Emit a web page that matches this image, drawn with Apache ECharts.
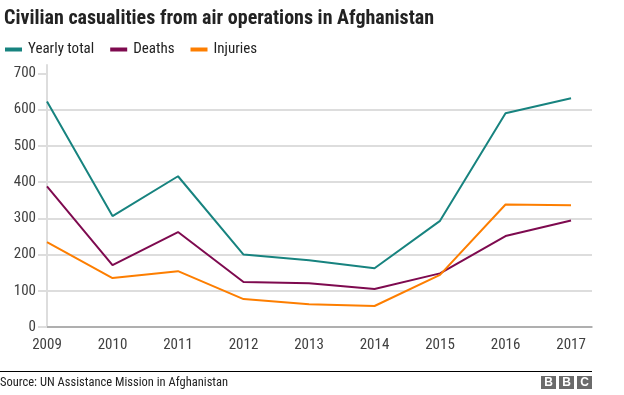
<!DOCTYPE html>
<html><head><meta charset="utf-8">
<script src="https://cdn.jsdelivr.net/npm/echarts@6/dist/echarts.min.js"></script>
<style>html,body{margin:0;padding:0;background:#fff}#c{width:624px;height:395px}</style>
</head><body><div id="c"></div>
<script>
const years = [2009, 2010, 2011, 2012, 2013, 2014, 2015, 2016, 2017];
const yearlyTotal = [622, 306, 416, 200, 184, 162, 293, 590, 631];
const deaths = [388, 171, 262, 124, 121, 105, 148, 251, 294];
const injuries = [234, 135, 154, 77, 63, 58, 144, 338, 336];
const yTicks = [0, 100, 200, 300, 400, 500, 600, 700];

const FONT = "'Roboto Condensed', 'Liberation Sans', Arial, sans-serif";
const chart = echarts.init(document.getElementById('c'), null, {renderer: 'canvas'});
const pair = arr => years.map((y, i) => [y, arr[i]]);
const lineSeries = (name, arr, color) => ({
  name, type: 'line', data: pair(arr), symbol: 'none',
  lineStyle: {color, width: 2}, itemStyle: {color}, animation: false
});
chart.setOption({
  animation: false,
  title: {
    text: 'Civilian casualities from air operations in Afghanistan',
    left: -1, top: 4,
    textStyle: {fontFamily: FONT, fontWeight: 'bold', fontSize: 20, color: '#222222'}
  },
  legend: {
    left: 0, top: 37, icon: 'rect', itemWidth: 17, itemHeight: 4, itemGap: 16,
    textStyle: {fontFamily: FONT, fontSize: 15, color: '#222222', padding: [0, 0, 0, 1]},
    data: ['Yearly total', 'Deaths', 'Injuries']
  },
  grid: {left: 47, right: 32, top: 65, bottom: 68, containLabel: false},
  xAxis: {
    type: 'value', min: 2009, max: 2017.32,
    axisLine: {show: true, lineStyle: {color: '#a0a0a0', width: 1.5}},
    axisTick: {show: false},
    splitLine: {show: false},
    axisLabel: {customValues: years, formatter: v => String(v), margin: 11,
      fontFamily: FONT, fontSize: 15, color: '#404040'}
  },
  yAxis: {
    type: 'value', min: 0, max: 723,
    axisLine: {show: true, lineStyle: {color: '#dddddd', width: 2}},
    axisTick: {show: true, customValues: yTicks, length: 9, lineStyle: {color: '#dddddd', width: 2}},
    splitLine: {show: true, showMaxLine: false, lineStyle: {color: '#dddddd', width: 2}},
    axisLabel: {customValues: yTicks, margin: 11, fontFamily: FONT, fontSize: 15, color: '#404040'}
  },
  series: [
    lineSeries('Yearly total', yearlyTotal, '#17837f'),
    lineSeries('Deaths', deaths, '#7e0a4f'),
    lineSeries('Injuries', injuries, '#fd7e00')
  ],
  graphic: [
    {type: 'line', shape: {x1: 0, y1: 371.5, x2: 592, y2: 371.5}, style: {stroke: '#000', lineWidth: 1}},
    {type: 'text', left: 0, top: 376, style: {text: 'Source: UN Assistance Mission in Afghanistan', font: "12.5px " + FONT, fill: '#222222'}},
    {type: 'rect', shape: {x: 541, y: 376, width: 15, height: 13}, style: {fill: '#6b6b6b'}},
    {type: 'rect', shape: {x: 559, y: 376, width: 15, height: 13}, style: {fill: '#6b6b6b'}},
    {type: 'rect', shape: {x: 577, y: 376, width: 15, height: 13}, style: {fill: '#6b6b6b'}},
    {type: 'text', x: 548.5, y: 382.5, style: {text: 'B', font: "bold 12px 'Liberation Sans', Arial", fill: '#fff', align: 'center', verticalAlign: 'middle'}},
    {type: 'text', x: 566.5, y: 382.5, style: {text: 'B', font: "bold 12px 'Liberation Sans', Arial", fill: '#fff', align: 'center', verticalAlign: 'middle'}},
    {type: 'text', x: 584.5, y: 382.5, style: {text: 'C', font: "bold 12px 'Liberation Sans', Arial", fill: '#fff', align: 'center', verticalAlign: 'middle'}}
  ]
});
</script></body></html>
